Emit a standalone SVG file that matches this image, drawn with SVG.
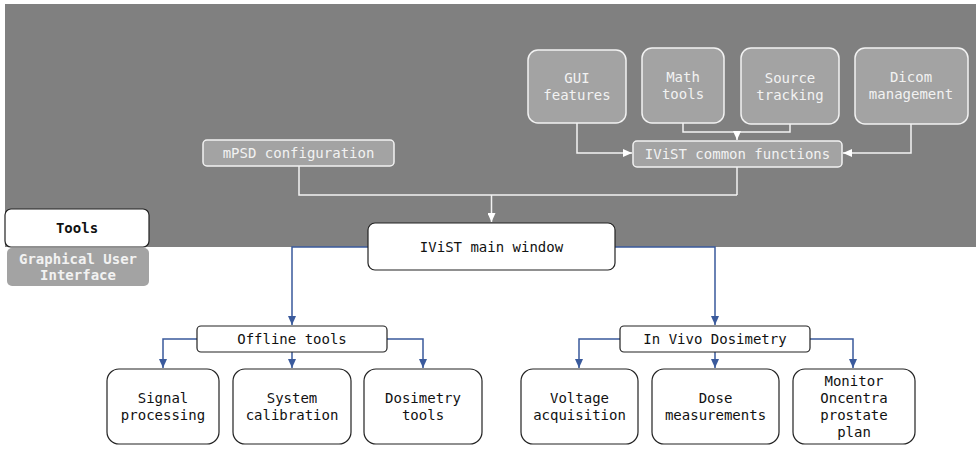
<svg xmlns="http://www.w3.org/2000/svg" width="976" height="450" viewBox="0 0 976 450">
<defs>
<marker id="aw" markerWidth="10" markerHeight="8" refX="9" refY="4" orient="auto" markerUnits="userSpaceOnUse"><path d="M0,0 L9,4 L0,8 Z" fill="#ffffff"/></marker>
<marker id="ab" markerWidth="10" markerHeight="8" refX="9" refY="4" orient="auto" markerUnits="userSpaceOnUse"><path d="M0,0 L9,4 L0,8 Z" fill="#3a5a9c"/></marker>
<style>
text{font-family:"DejaVu Sans Mono","Liberation Mono",monospace;font-size:14px;text-anchor:middle}
.gb{fill:#a3a3a3;stroke:#f2f2f2;stroke-width:1.5}
.gt{fill:#f2f2f2}
.wb{fill:#ffffff;stroke:#222222;stroke-width:1.2}
.wt{fill:#111111}
.cw{fill:none;stroke:#f2f2f2;stroke-width:1.5}
.cb{fill:none;stroke:#3a5a9c;stroke-width:1.5}
</style>
</defs>
<rect x="5" y="4" width="971" height="243" fill="#808080"/>
<g id="connectors">
<path class="cw" d="M299,166 V195 H737" />
<path class="cw" d="M737,167 V195" />
<path class="cw" d="M491.5,195 V222" marker-end="url(#aw)"/>
<path class="cw" d="M683,123 V132 H790 V124" />
<path class="cw" d="M737,132 V140" marker-end="url(#aw)"/>
<path class="cw" d="M577,123 V153 H632" marker-end="url(#aw)"/>
<path class="cw" d="M911,124 V153 H843" marker-end="url(#aw)"/>
<path class="cb" d="M368,247 H292 V325" marker-end="url(#ab)"/>
<path class="cb" d="M615,247 H715 V325" marker-end="url(#ab)"/>
<path class="cb" d="M197,339 H163 V368" marker-end="url(#ab)"/>
<path class="cb" d="M292,352 V368" marker-end="url(#ab)"/>
<path class="cb" d="M387,339 H423 V368" marker-end="url(#ab)"/>
<path class="cb" d="M620,339 H579 V368" marker-end="url(#ab)"/>
<path class="cb" d="M715,352 V368" marker-end="url(#ab)"/>
<path class="cb" d="M810,339 H853 V368" marker-end="url(#ab)"/>
</g>
<g id="gui-features"><rect class="gb" x="528" y="50" width="98" height="73" rx="10"/><text class="gt" x="577" y="83">GUI</text><text class="gt" x="577" y="100">features</text></g>
<g id="math-tools"><rect class="gb" x="642" y="48" width="82" height="75" rx="10"/><text class="gt" x="683" y="82">Math</text><text class="gt" x="683" y="99">tools</text></g>
<g id="source-tracking"><rect class="gb" x="741" y="48" width="98" height="76" rx="10"/><text class="gt" x="790" y="83">Source</text><text class="gt" x="790" y="100">tracking</text></g>
<g id="dicom-management"><rect class="gb" x="855" y="48" width="113" height="76" rx="10"/><text class="gt" x="911" y="82">Dicom</text><text class="gt" x="911" y="99">management</text></g>
<g id="common-functions"><rect class="gb" x="633" y="141" width="209" height="26" rx="4"/><text class="gt" x="737.5" y="159">IViST common functions</text></g>
<g id="mpsd-configuration"><rect class="gb" x="203" y="140" width="191" height="26" rx="4"/><text class="gt" x="298.5" y="158">mPSD configuration</text></g>
<g id="main-window"><rect class="wb" x="368" y="223" width="247" height="47" rx="7"/><text class="wt" x="491.5" y="252">IViST main window</text></g>
<g id="legend-tools"><rect class="wb" x="5" y="209" width="144" height="38" rx="6"/><text class="wt" x="77" y="233" font-weight="bold">Tools</text></g>
<g id="legend-gui"><rect x="7" y="248" width="142" height="38" rx="5" fill="#a3a3a3"/><text x="78" y="264" fill="#f2f2f2" font-weight="bold">Graphical User</text><text x="78" y="280" fill="#f2f2f2" font-weight="bold">Interface</text></g>
<g id="offline-tools"><rect class="wb" x="197" y="326" width="190" height="26" rx="4"/><text class="wt" x="292" y="344">Offline tools</text></g>
<g id="in-vivo-dosimetry"><rect class="wb" x="620" y="326" width="190" height="26" rx="4"/><text class="wt" x="715" y="344">In Vivo Dosimetry</text></g>
<g id="signal-processing"><rect class="wb" x="107" y="369" width="112" height="75" rx="12"/><text class="wt" x="163" y="403">Signal</text><text class="wt" x="163" y="420">processing</text></g>
<g id="system-calibration"><rect class="wb" x="233" y="369" width="118" height="75" rx="12"/><text class="wt" x="292" y="403">System</text><text class="wt" x="292" y="420">calibration</text></g>
<g id="dosimetry-tools"><rect class="wb" x="364" y="369" width="118" height="75" rx="12"/><text class="wt" x="423" y="403">Dosimetry</text><text class="wt" x="423" y="420">tools</text></g>
<g id="voltage-acquisition"><rect class="wb" x="521" y="369" width="117" height="75" rx="12"/><text class="wt" x="579.5" y="403">Voltage</text><text class="wt" x="579.5" y="420">acquisition</text></g>
<g id="dose-measurements"><rect class="wb" x="652" y="369" width="127" height="75" rx="12"/><text class="wt" x="715.5" y="403">Dose</text><text class="wt" x="715.5" y="420">measurements</text></g>
<g id="monitor-oncentra"><rect class="wb" x="793" y="369" width="122" height="75" rx="12"/><text class="wt" x="854" y="386">Monitor</text><text class="wt" x="854" y="403">Oncentra</text><text class="wt" x="854" y="420">prostate</text><text class="wt" x="854" y="437">plan</text></g>
</svg>
